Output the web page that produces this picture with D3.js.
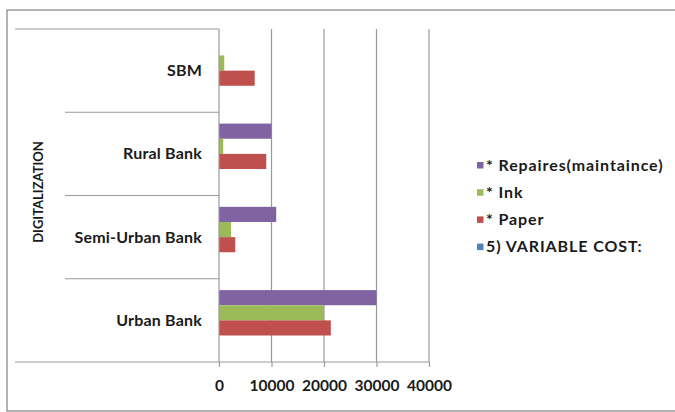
<!DOCTYPE html>
<html>
<head>
<meta charset="utf-8">
<script src="https://cdn.jsdelivr.net/npm/d3@7/dist/d3.min.js"></script>
<style>
  html, body { margin: 0; padding: 0; background: #fff; }
  svg { display: block; }
  text { font-family: Lato, "Open Sans", sans-serif; fill: #1a1a1a; }
</style>
</head>
<body>
<svg id="chart" width="675" height="412"></svg>
<script>
// Bank categories, top to bottom
const categories = ["SBM", "Rural Bank", "Semi-Urban Bank", "Urban Bank"];

// Cost series (legend order)
const seriesNames = ["* Repaires(maintaince)", "* Ink", "* Paper", "5) VARIABLE COST:"];
const seriesColors = ["#8064A2", "#9BBB59", "#C0504D", "#4F81BD"];

// Values per series, in the same order as categories
const repairs      = [0, 10000, 10900, 30000];
const ink          = [1000, 800, 2300, 20000];
const paper        = [6800, 9000, 3100, 21300];
const variableCost = [0, 0, 0, 0];

const tickValues = [0, 10000, 20000, 30000, 40000];
const groupTitle = "DIGITALIZATION";

const seriesValues = [repairs, ink, paper, variableCost];
const rows = categories.map((c, i) => ({
  category: c,
  values: seriesNames.map((s, j) => ({ series: s, value: seriesValues[j][i], color: seriesColors[j] }))
}));

const svg = d3.select("#chart");

// outer chart frame
svg.append("rect")
  .attr("x", 7).attr("y", 10).attr("width", 680).attr("height", 401)
  .attr("fill", "none").attr("stroke", "#8c8c8c").attr("stroke-width", 1.3);

const plot = { left: 219, right: 429, top: 29, bottom: 362 };

const x = d3.scaleLinear().domain([0, 40000]).range([plot.left, plot.right]);
const y0 = d3.scaleBand().domain(categories).range([plot.top, plot.bottom]).padding(0);
const y1 = d3.scaleBand().domain(seriesNames).range([0, y0.bandwidth()])
  .paddingInner(0).paddingOuter(0.75);

const grid = "#9a9a9a";

// vertical gridlines
svg.append("g").selectAll("line").data(tickValues.slice(1)).join("line")
  .attr("x1", d => x(d)).attr("x2", d => x(d))
  .attr("y1", plot.top).attr("y2", plot.bottom)
  .attr("stroke", grid).attr("stroke-width", 1.2);

// bars
const groups = svg.append("g").selectAll("g").data(rows).join("g")
  .attr("transform", d => `translate(0,${y0(d.category)})`);
groups.selectAll("rect").data(d => d.values.filter(v => v.value > 0)).join("rect")
  .attr("x", x(0))
  .attr("y", d => y1(d.series))
  .attr("width", d => x(d.value) - x(0))
  .attr("height", y1.bandwidth())
  .attr("fill", d => d.color);

// x axis
const xAxis = d3.axisBottom(x).tickValues(tickValues).tickSize(5).tickPadding(13)
  .tickFormat(d3.format("d"));
const gx = svg.append("g").attr("transform", `translate(0,${plot.bottom})`).call(xAxis);
gx.select(".domain").remove();
gx.selectAll(".tick line").attr("stroke", grid).attr("stroke-width", 1.2);
gx.selectAll(".tick text")
  .style("font-size", "15.5px").style("font-weight", "700").attr("fill", "#1a1a1a");

// baseline extends under the category labels
svg.append("line")
  .attr("x1", 15).attr("x2", plot.right)
  .attr("y1", plot.bottom).attr("y2", plot.bottom)
  .attr("stroke", grid).attr("stroke-width", 1.2);

// category axis line
svg.append("line")
  .attr("x1", plot.left).attr("x2", plot.left)
  .attr("y1", plot.top).attr("y2", plot.bottom)
  .attr("stroke", grid).attr("stroke-width", 1.2);

// top boundary of the group
svg.append("line")
  .attr("x1", 15).attr("x2", plot.left)
  .attr("y1", plot.top).attr("y2", plot.top)
  .attr("stroke", grid).attr("stroke-width", 1.2);

// separators between categories
svg.append("g").selectAll("line").data(categories.slice(1)).join("line")
  .attr("x1", 65).attr("x2", plot.left)
  .attr("y1", d => y0(d)).attr("y2", d => y0(d))
  .attr("stroke", grid).attr("stroke-width", 1.2);

// category labels
svg.append("g").selectAll("text").data(categories).join("text")
  .attr("x", 202)
  .attr("y", d => y0(d) + y0.bandwidth() / 2)
  .attr("dy", "0.35em")
  .attr("text-anchor", "end")
  .style("font-size", "16px").style("font-weight", "700")
  .style("letter-spacing", "0.2px")
  .text(d => d);

// group title
svg.append("text")
  .attr("transform", `translate(38,192) rotate(-90)`)
  .attr("dy", "0.35em")
  .attr("text-anchor", "middle")
  .style("font-size", "13px").style("font-weight", "700")
  .text(groupTitle);

// legend
const legend = svg.append("g").attr("transform", "translate(477,165)");
const li = legend.selectAll("g").data(seriesNames.map((s, i) => ({ s, c: seriesColors[i] })))
  .join("g").attr("transform", (d, i) => `translate(0,${i * 27.2})`);
li.append("rect").attr("x", 0).attr("y", -3).attr("width", 6.5).attr("height", 6.5)
  .attr("fill", d => d.c);
li.append("text").attr("x", 9).attr("dy", "0.35em")
  .style("font-size", "16px").style("font-weight", "700")
  .style("letter-spacing", "0.9px")
  .text(d => d.s);
</script>
</body>
</html>
